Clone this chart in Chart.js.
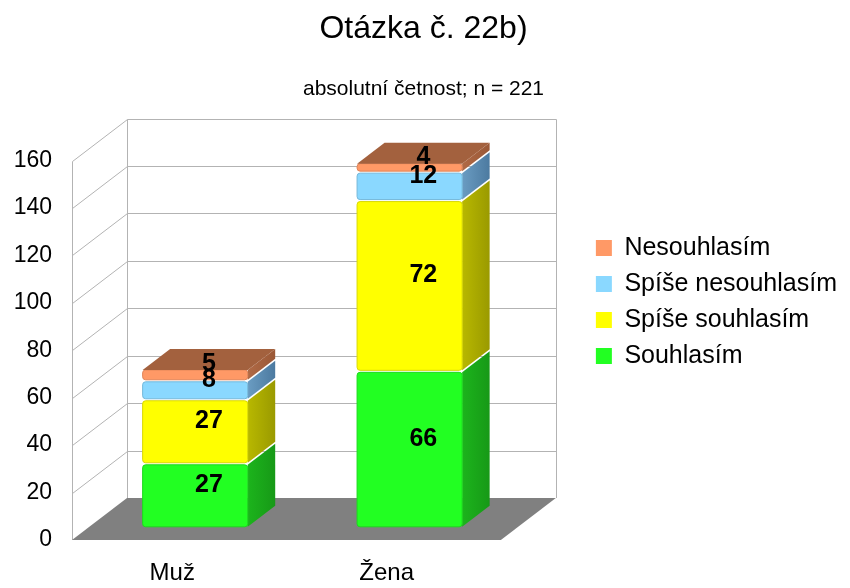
<!DOCTYPE html>
<html>
<head>
<meta charset="utf-8">
<script src="https://cdn.jsdelivr.net/npm/chart.js@4.4.1/dist/chart.umd.min.js"></script>
<style>
  html, body { margin: 0; padding: 0; background: #fff; }
</style>
</head>
<body>
<canvas id="chart" width="850" height="588"></canvas>
<script>
// data
var categories = ["Muž", "Žena"];
var seriesNames = ["Souhlasím", "Spíše souhlasím", "Spíše nesouhlasím", "Nesouhlasím"];
var souhlasim = [27, 66];
var spiseSouhlasim = [27, 72];
var spiseNesouhlasim = [8, 12];
var nesouhlasim = [5, 4];
var yTicks = [0, 20, 40, 60, 80, 100, 120, 140, 160];

// colours: front face, side face (light -> dark)
var frontColors = ["#22ff22", "#ffff00", "#8ad8ff", "#ff9966"];
var edgeColors = ["#1ed81e", "#d8d800", "#74b8da", "#e08458"];
var sideColors = [["#1cb41c", "#179917"], ["#b8b800", "#9a9a00"], ["#6a9cc2", "#4c7aa0"], ["#b06a46", "#9a5836"]];
var topColor = "#a3613e";

// 3d look
var DEPTH_X = 55, DEPTH_Y = 42;
var BAR_FRONT = 0.29, BAR_DEPTH = 0.5;

Chart.defaults.font.family = "'Liberation Sans', Arial, sans-serif";
Chart.defaults.color = "#000";

var box3d = {
    id: 'box3d',
    beforeDatasetsDraw: function (chart) {
        var ctx = chart.ctx;
        var a = chart.chartArea;
        var ys = chart.scales.y;
        var y0 = ys.getPixelForValue(yTicks[0]);
        var yMax = ys.getPixelForValue(yTicks[yTicks.length - 1]);
        var L = Math.round(a.left) + 0.5, R = Math.round(a.right) + 0.5;

        ctx.save();
        // walls
        ctx.strokeStyle = '#b3b3b3';
        ctx.lineWidth = 1;
        ctx.beginPath();
        yTicks.forEach(function (v) {
            var py = Math.round(ys.getPixelForValue(v)) + 0.5;
            if (v === yTicks[0]) return;
            ctx.moveTo(L, py);
            ctx.lineTo(L + DEPTH_X, py - DEPTH_Y);
            ctx.lineTo(R + DEPTH_X, py - DEPTH_Y);
        });
        ctx.moveTo(L, Math.round(yMax) + 0.5);
        ctx.lineTo(L, y0);
        ctx.moveTo(L + DEPTH_X, Math.round(yMax) - DEPTH_Y + 0.5);
        ctx.lineTo(L + DEPTH_X, y0 - DEPTH_Y);
        ctx.moveTo(R + DEPTH_X, Math.round(yMax) - DEPTH_Y + 0.5);
        ctx.lineTo(R + DEPTH_X, y0 - DEPTH_Y);
        ctx.stroke();

        // floor
        ctx.fillStyle = '#808080';
        ctx.beginPath();
        ctx.moveTo(a.left, y0);
        ctx.lineTo(a.right, y0);
        ctx.lineTo(a.right + DEPTH_X, y0 - DEPTH_Y);
        ctx.lineTo(a.left + DEPTH_X, y0 - DEPTH_Y);
        ctx.closePath();
        ctx.fill();

        // bars
        var n = chart.data.datasets.length;
        var ox = DEPTH_X * BAR_FRONT, oy = DEPTH_Y * BAR_FRONT;
        var bx = DEPTH_X * BAR_DEPTH, by = DEPTH_Y * BAR_DEPTH;
        var labels = [];
        categories.forEach(function (c, i) {
            for (var d = 0; d < n; d++) {
                var el = chart.getDatasetMeta(d).data[i];
                var l = el.x - el.width / 2 + ox, r = el.x + el.width / 2 + ox;
                var t = el.y - oy, b = el.base - oy;

                var g = ctx.createLinearGradient(r, 0, r + bx, 0);
                g.addColorStop(0, sideColors[d][0]);
                g.addColorStop(1, sideColors[d][1]);
                ctx.fillStyle = g;
                ctx.beginPath();
                ctx.moveTo(r, t + 1);
                ctx.lineTo(r + bx, t + 1 - by);
                ctx.lineTo(r + bx, b - 1 - by);
                ctx.lineTo(r, b - 1);
                ctx.closePath();
                ctx.fill();

                ctx.fillStyle = frontColors[d];
                ctx.strokeStyle = edgeColors[d];
                ctx.beginPath();
                ctx.roundRect(l, t + 1, r - l, b - t - 2, 3);
                ctx.fill();
                ctx.stroke();

                if (d === n - 1) {
                    ctx.fillStyle = topColor;
                    ctx.beginPath();
                    ctx.moveTo(l, t + 1);
                    ctx.lineTo(l + bx, t + 1 - by);
                    ctx.lineTo(r + bx, t + 1 - by);
                    ctx.lineTo(r, t + 1);
                    ctx.closePath();
                    ctx.fill();
                }
                labels.push({
                    text: String(chart.data.datasets[d].data[i]),
                    x: (l + r) / 2 + bx / 2,
                    y: (t + b) / 2 - by / 2
                });
            }
        });

        ctx.fillStyle = '#000';
        ctx.font = "bold 25px 'Liberation Sans', Arial, sans-serif";
        ctx.textAlign = 'center';
        ctx.textBaseline = 'middle';
        labels.forEach(function (lb) {
            ctx.fillText(lb.text, lb.x, lb.y);
        });
        ctx.restore();
        return false;
    }
};

var seriesData = [souhlasim, spiseSouhlasim, spiseNesouhlasim, nesouhlasim];
var datasets = [];
for (var k = 0; k < seriesNames.length; k++) {
    datasets.push({
        label: seriesNames[k],
        data: seriesData[k],
        backgroundColor: frontColors[k],
        borderWidth: 0
    });
}

new Chart(document.getElementById('chart'), {
    type: 'bar',
    data: {
        labels: categories,
        datasets: datasets
    },
    plugins: [box3d],
    options: {
        responsive: false,
        animation: false,
        devicePixelRatio: 1,
        layout: { padding: { left: 0, right: 3, top: 0, bottom: 0 } },
        datasets: { bar: { categoryPercentage: 1, barPercentage: 0.49 } },
        plugins: {
            title: {
                display: true,
                text: 'Otázka č. 22b)',
                font: { size: 32, weight: 'normal' },
                padding: { top: 10, bottom: 28 }
            },
            subtitle: {
                display: true,
                text: 'absolutní četnost; n = 221',
                font: { size: 21 },
                padding: { top: 0, bottom: 59 }
            },
            legend: {
                position: 'right',
                align: 'center',
                reverse: true,
                maxWidth: 300,
                title: { display: true, text: '', font: { size: 10 }, padding: { top: 4, bottom: 0 } },
                labels: {
                    boxWidth: 16,
                    boxHeight: 16,
                    padding: 11,
                    font: { size: 25 }
                }
            },
            tooltip: { enabled: false }
        },
        scales: {
            x: {
                stacked: true,
                grid: { display: false, drawTicks: false },
                border: { display: false },
                ticks: { font: { size: 24 }, padding: 19, labelOffset: -7 },
                afterFit: function (s) { s.height = 48; }
            },
            y: {
                stacked: true,
                min: yTicks[0],
                max: yTicks[yTicks.length - 1],
                grid: { display: false, drawTicks: false },
                border: { display: false },
                ticks: { font: { size: 23 }, padding: 20 },
                afterBuildTicks: function (s) {
                    s.ticks = yTicks.map(function (v) { return { value: v }; });
                },
                afterFit: function (s) { s.width = 72; }
            },
            pad: {
                type: 'linear',
                position: 'right',
                grid: { display: false, drawTicks: false },
                border: { display: false },
                ticks: { display: false },
                afterFit: function (s) { s.width = 84; }
            }
        }
    }
});
</script>
</body>
</html>
